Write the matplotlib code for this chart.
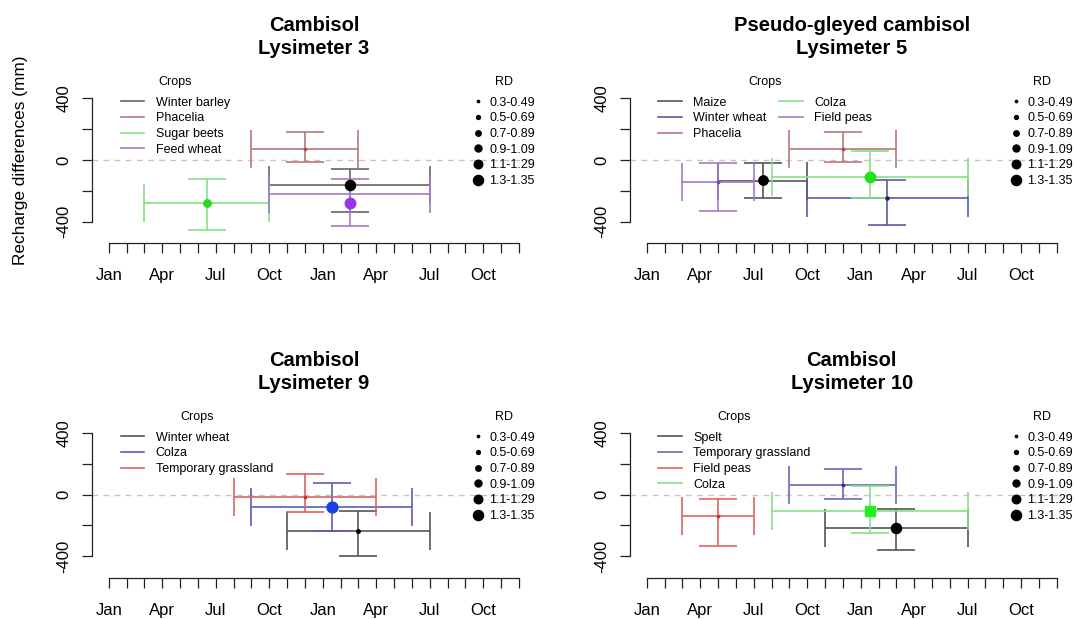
import matplotlib.pyplot as plt
from matplotlib.lines import Line2D

plt.rcParams['font.family'] = ['Liberation Sans', 'DejaVu Sans']

# month axis: 24 months, first tick = January of the first year
MONTH_TICKS = list(range(24))
MONTH_LABELS = ['Jan', 'Apr', 'Jul', 'Oct', 'Jan', 'Apr', 'Jul', 'Oct']
MONTH_LABEL_POS = [0, 3, 6, 9, 12, 15, 18, 21]
Y_TICKS = [-400, -200, 0, 200, 400]
Y_TICK_LABELS = ['-400', '', '0', '', '400']

RD_CLASSES = ['0.3-0.49', '0.5-0.69', '0.7-0.89', '0.9-1.09', '1.1-1.29', '1.3-1.35']
RD_CLASS_VALUES = [0.3, 0.5, 0.7, 0.9, 1.1, 1.3]

# ---- Lysimeter 3 (Cambisol) ----
LYS3_CROPS = ['Winter barley', 'Phacelia', 'Sugar beets', 'Feed wheat']
LYS3_PERIOD = [(9, 18), (8, 14), (2, 9), (9, 18)]          # months
LYS3_BAR_Y = [-162, 69, -277, -222]                          # mm
LYS3_RANGE = [(-335, -58), (-15, 180), (-454, -125), (-427, -125)]
LYS3_POINT_Y = [-162, 69, -277, -277]
LYS3_RD = [1.3, 0.3, 0.95, 1.35]
LYS3_LINE_COL = ['#666666', '#b77878', '#86e086', '#a07cc4']
LYS3_POINT_COL = ['#000000', '#a05050', '#2ad82a', '#9a33ec']
LYS3_MARKER = ['o', 'o', 'o', 'o']

# ---- Lysimeter 5 (Pseudo-gleyed cambisol) ----
LYS5_CROPS = ['Maize', 'Winter wheat', 'Phacelia', 'Colza', 'Field peas']
LYS5_PERIOD = [(4, 9), (9, 18), (8, 14), (7, 18), (2, 6)]
LYS5_BAR_Y = [-133, -244, 69, -108, -140]
LYS5_RANGE = [(-244, -17), (-423, -132), (-15, 181), (-244, 58), (-330, -17)]
LYS5_POINT_Y = [-131, -244, 69, -108, -140]
LYS5_RD = [1.2, 0.4, 0.3, 1.35, 0.3]
LYS5_LINE_COL = ['#555555', '#5a5aa8', '#b77878', '#86e086', '#a07cc4']
LYS5_POINT_COL = ['#000000', '#20206a', '#a05050', '#22e022', '#8040b0']
LYS5_MARKER = ['o', 'o', 'o', 'o', 'o']

# ---- Lysimeter 9 (Cambisol) ----
LYS9_CROPS = ['Winter wheat', 'Colza', 'Temporary grassland']
LYS9_PERIOD = [(10, 18), (8, 17), (7, 15)]
LYS9_BAR_Y = [-234, -78, -13]
LYS9_RANGE = [(-397, -106), (-236, 78), (-111, 135)]
LYS9_POINT_Y = [-234, -80, -13]
LYS9_RD = [0.45, 1.4, 0.3]
LYS9_LINE_COL = ['#555555', '#5c5cb8', '#e06262']
LYS9_POINT_COL = ['#000000', '#1a3ee6', '#d03030']
LYS9_MARKER = ['o', 'o', 'o']

# ---- Lysimeter 10 (Cambisol) ----
LYS10_CROPS = ['Spelt', 'Temporary grassland', 'Field peas', 'Colza']
LYS10_PERIOD = [(10, 18), (8, 14), (2, 6), (7, 18)]
LYS10_BAR_Y = [-215, 63, -137, -104]
LYS10_RANGE = [(-359, -93), (-30, 167), (-333, -30), (-248, 55)]
LYS10_POINT_Y = [-215, 63, -137, -104]
LYS10_RD = [1.3, 0.3, 0.3, 1.2]
LYS10_LINE_COL = ['#555555', '#6a6ab4', '#e06464', '#86e086']
LYS10_POINT_COL = ['#000000', '#30307a', '#d03030', '#22ee22']
LYS10_MARKER = ['o', 'o', 'o', 's']

PANELS = [
    ('Cambisol', 'Lysimeter 3', LYS3_CROPS, LYS3_PERIOD, LYS3_BAR_Y, LYS3_RANGE,
     LYS3_POINT_Y, LYS3_RD, LYS3_LINE_COL, LYS3_POINT_COL, LYS3_MARKER, 1),
    ('Pseudo-gleyed cambisol', 'Lysimeter 5', LYS5_CROPS, LYS5_PERIOD, LYS5_BAR_Y,
     LYS5_RANGE, LYS5_POINT_Y, LYS5_RD, LYS5_LINE_COL, LYS5_POINT_COL, LYS5_MARKER, 2),
    ('Cambisol', 'Lysimeter 9', LYS9_CROPS, LYS9_PERIOD, LYS9_BAR_Y, LYS9_RANGE,
     LYS9_POINT_Y, LYS9_RD, LYS9_LINE_COL, LYS9_POINT_COL, LYS9_MARKER, 1),
    ('Cambisol', 'Lysimeter 10', LYS10_CROPS, LYS10_PERIOD, LYS10_BAR_Y, LYS10_RANGE,
     LYS10_POINT_Y, LYS10_RD, LYS10_LINE_COL, LYS10_POINT_COL, LYS10_MARKER, 1),
]

# axes rectangles (left, bottom, width, height) in figure fraction
AX_RECTS = [
    (0.0859, 0.6069, 0.4116, 0.2692),
    (0.5858, 0.6069, 0.4116, 0.2692),
    (0.0859, 0.0669, 0.4116, 0.2679),
    (0.5858, 0.0669, 0.4116, 0.2679),
]

MS_PER_RD = 5.6      # marker size (pt) per unit of RD
LW = 1.2
CAP = 13.5
AXIS_COL = '#222222'


def draw_panel(ax, panel):
    (title1, title2, crops, periods, bar_y, ranges, point_y, rd,
     line_cols, point_cols, markers, ncol) = panel

    ax.axhline(0, color='#c4c4c4', lw=1.0, dashes=(4, 4), zorder=0)

    for i in range(len(crops)):
        x0, x1 = periods[i]
        xm = (x0 + x1) / 2
        lo, hi = ranges[i]
        ax.errorbar(xm, bar_y[i], xerr=[[xm - x0], [x1 - xm]], fmt='none',
                    ecolor=line_cols[i], elinewidth=LW, capsize=CAP, capthick=LW)
        ax.errorbar(xm, (lo + hi) / 2, yerr=(hi - lo) / 2, fmt='none',
                    ecolor=line_cols[i], elinewidth=LW, capsize=CAP, capthick=LW)
        ax.plot(xm, point_y[i], marker=markers[i], ms=rd[i] * MS_PER_RD,
                color=point_cols[i], linestyle='none', zorder=5)

    ax.set_xlim(-0.92, 23.92)
    ax.set_ylim(-540, 540)
    for side in ('top', 'right'):
        ax.spines[side].set_visible(False)
    ax.spines['left'].set_bounds(-400, 400)
    ax.spines['bottom'].set_bounds(0, 23)
    for side in ('left', 'bottom'):
        ax.spines[side].set_color(AXIS_COL)
        ax.spines[side].set_linewidth(0.9)

    xlabels = [''] * len(MONTH_TICKS)
    for p, lab in zip(MONTH_LABEL_POS, MONTH_LABELS):
        xlabels[p] = lab
    ax.set_xticks(MONTH_TICKS, xlabels)
    ax.set_yticks(Y_TICKS, Y_TICK_LABELS)
    ax.tick_params(axis='x', length=7, width=0.9, color=AXIS_COL,
                   labelsize=12, pad=11)
    ax.tick_params(axis='y', length=7, width=0.9, color=AXIS_COL,
                   labelsize=12, pad=13.5)
    for lab in ax.get_yticklabels():
        lab.set_rotation(90)
        lab.set_ha('center')
        lab.set_va('center')

    ax.text(0.5, 1.276, title1, transform=ax.transAxes, ha='center',
            va='baseline', fontsize=14.5, fontweight='bold')
    ax.text(0.5, 1.1345, title2, transform=ax.transAxes, ha='center',
            va='baseline', fontsize=14.5, fontweight='bold')

    crop_handles = [Line2D([], [], color=c, lw=LW) for c in line_cols]
    leg_crops = ax.legend(crop_handles, crops, loc='upper left',
                          bbox_to_anchor=(0.0634, 0.879), ncol=ncol,
                          frameon=False, fontsize=9, borderpad=0,
                          borderaxespad=0, handlelength=1.9,
                          handletextpad=0.9, labelspacing=0.29,
                          columnspacing=1.0)
    ax.add_artist(leg_crops)

    rd_handles = [Line2D([], [], marker='o', color='black', linestyle='none',
                         ms=v * MS_PER_RD) for v in RD_CLASS_VALUES]
    leg_rd = ax.legend(rd_handles, RD_CLASSES, loc='upper right',
                       bbox_to_anchor=(1.0, 0.879), frameon=False, fontsize=9,
                       borderpad=0, borderaxespad=0, handlelength=0.9,
                       handletextpad=0.5, labelspacing=0.29)
    return leg_crops, leg_rd


fig = plt.figure(figsize=(10.76, 6.19), dpi=100)
legends = []
axes = []
for rect, panel in zip(AX_RECTS, PANELS):
    ax = fig.add_axes(rect)
    axes.append(ax)
    legends.append(draw_panel(ax, panel))

axes[0].text(-0.1635, 0.5, 'Recharge differences (mm)', transform=axes[0].transAxes,
             rotation=90, ha='center', va='center', fontsize=12.4)

# legend headings centred over each legend block
fig.canvas.draw()
for ax, (leg_crops, leg_rd) in zip(axes, legends):
    for leg, heading in ((leg_crops, 'Crops'), (leg_rd, 'RD')):
        bb = leg.get_window_extent().transformed(ax.transAxes.inverted())
        ax.text((bb.x0 + bb.x1) / 2, 0.970, heading, transform=ax.transAxes,
                ha='center', va='center', fontsize=9)

fig.savefig('out.png', dpi=100)
